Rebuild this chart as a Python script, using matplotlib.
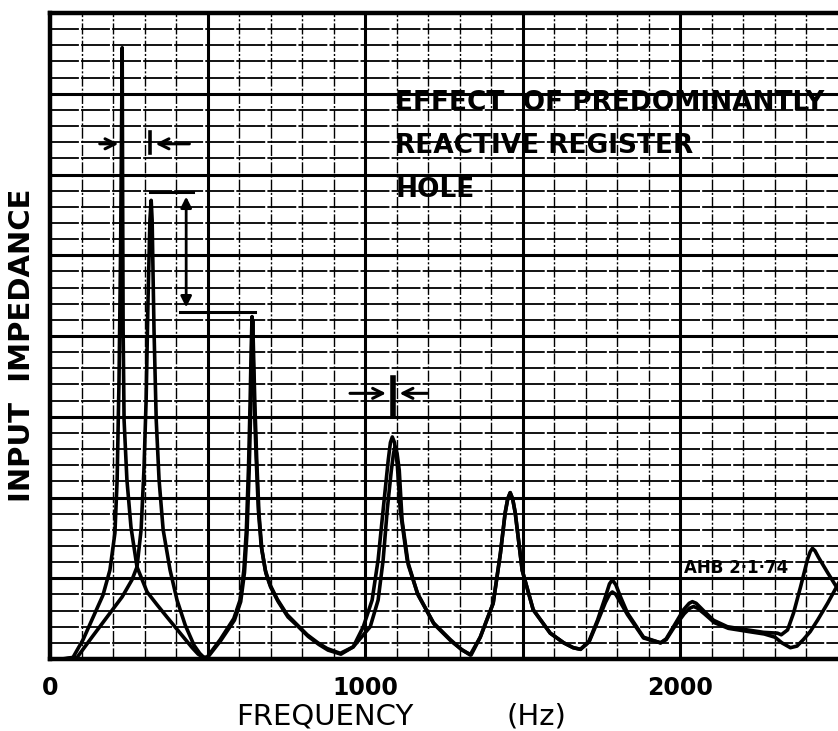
"""Input impedance of a clarinet-like air column, register hole closed vs open.

Redrawn from a scanned graph-paper plot: two curves on a 100 Hz by 0.2-unit grid.
"""

import matplotlib
matplotlib.use("Agg")
import matplotlib.pyplot as plt
import numpy as np

# register hole closed (tall first peak near 229 Hz)
HZ_A = [38, 73, 105, 137, 168, 190, 206, 213, 219, 224, 229, 230.5, 232, 235, 244, 257, 276,
        308, 340, 371, 413, 451, 470, 486,
        498, 540, 583, 603, 615, 623, 630, 635, 638, 641, 644, 648, 654, 661, 670, 683, 698, 721,
        752, 785, 816, 850, 879, 921,
        962, 994, 1022, 1041, 1057, 1073, 1080, 1086, 1093, 1102, 1111, 1133, 1165, 1216, 1270,
        1305, 1333,
        1365, 1406, 1429, 1444, 1452, 1460, 1468, 1476, 1498, 1533, 1587, 1630, 1660, 1683,
        1710, 1737, 1762, 1775, 1784, 1795, 1810, 1832, 1883, 1937,
        1955, 1978, 2010, 2028, 2038, 2050, 2073, 2105, 2149, 2213, 2264, 2308, 2320,
        2340, 2359, 2381, 2403, 2412, 2419, 2427, 2438, 2467, 2502]
Z_A = [0.0, 0.02, 0.24, 0.52, 0.79, 1.10, 1.56, 2.22, 3.46, 5.07, 7.57, 5.68, 4.07, 2.96, 2.22, 1.63, 1.14,
       0.83, 0.67, 0.52, 0.32, 0.14, 0.06, 0.02,
       0.02, 0.24, 0.50, 0.73, 1.10, 1.60, 2.40, 3.20, 3.80, 4.24, 3.80, 3.20, 2.50, 1.85, 1.40, 1.10, 0.92, 0.74,
       0.55, 0.42, 0.30, 0.20, 0.13, 0.07,
       0.15, 0.40, 0.73, 1.23, 1.85, 2.46, 2.68, 2.75, 2.68, 2.40, 1.85, 1.23, 0.82, 0.45, 0.24,
       0.12, 0.05,
       0.27, 0.69, 1.31, 1.81, 1.98, 2.06, 1.98, 1.81, 1.10, 0.61, 0.32, 0.20, 0.14, 0.12,
       0.22, 0.48, 0.77, 0.93, 0.98, 0.92, 0.77, 0.57, 0.27, 0.20,
       0.25, 0.40, 0.61, 0.69, 0.71, 0.69, 0.60, 0.48, 0.40, 0.36, 0.33, 0.32, 0.30,
       0.36, 0.57, 0.89, 1.23, 1.33, 1.37, 1.34, 1.26, 1.07, 0.85]

# register hole open (first peak pushed up to ~321 Hz and lowered)
HZ_B = [45, 86, 133, 181, 229, 260, 276, 289, 298, 305, 311, 317, 321, 324, 330, 337, 346, 359,
        381, 403, 429, 457, 475, 488,
        500, 542, 585, 605, 617, 625, 632, 637, 640, 643, 646, 650, 656, 663, 672, 685, 700, 724,
        755, 788, 819, 853, 882, 923,
        962, 1016, 1041, 1057, 1070, 1083, 1090, 1095, 1101, 1108, 1117, 1137, 1168, 1219, 1273,
        1308, 1336,
        1365, 1406, 1429, 1444, 1452, 1460, 1468, 1476, 1498, 1533, 1587, 1630, 1660, 1683,
        1710, 1737, 1762, 1775, 1784, 1795, 1810, 1832, 1883, 1937,
        1955, 1978, 2012, 2030, 2042, 2054, 2076, 2108, 2152, 2216, 2266, 2300, 2322,
        2349, 2370, 2390, 2412, 2435, 2467, 2502]
Z_B = [0.0, 0.02, 0.27, 0.52, 0.77, 0.98, 1.14, 1.60, 2.34, 3.21, 4.45, 5.44, 5.68, 5.44, 4.07, 2.96, 2.22, 1.60,
       1.10, 0.73, 0.42, 0.17, 0.07, 0.02,
       0.02, 0.23, 0.48, 0.71, 1.07, 1.56, 2.35, 3.15, 3.75, 4.20, 3.75, 3.15, 2.45, 1.80, 1.36, 1.06, 0.89, 0.71,
       0.52, 0.40, 0.28, 0.18, 0.11, 0.06,
       0.15, 0.40, 0.73, 1.23, 1.85, 2.34, 2.55, 2.63, 2.55, 2.34, 1.72, 1.16, 0.79, 0.43, 0.22,
       0.11, 0.05,
       0.27, 0.69, 1.31, 1.81, 1.98, 2.06, 1.98, 1.81, 1.10, 0.61, 0.32, 0.20, 0.14, 0.12,
       0.21, 0.46, 0.70, 0.80, 0.83, 0.80, 0.70, 0.55, 0.26, 0.20,
       0.24, 0.38, 0.56, 0.63, 0.65, 0.63, 0.56, 0.45, 0.38, 0.34, 0.31, 0.27, 0.20,
       0.14, 0.16, 0.24, 0.34, 0.48, 0.69, 0.94]

TICKS = [0, 1000, 2000]
TICK_LABELS = ["0", "1000", "2000"]
TITLE_LINES = ["EFFECT  OF PREDOMINANTLY", "REACTIVE REGISTER", "HOLE"]
STAMP = "AHB 2·1·74"

INK = "black"


def graph_paper(ax):
    # minor rules first, broken like the printed paper; major rules heavier on top
    for x in np.arange(100, 2500, 100):
        if x % 500:
            ax.axvline(x, color=INK, lw=1.0, ls=(0, (8, 1.5, 1.5, 1.5)), zorder=1)
    for y in np.arange(0.2, 8, 0.2):
        if abs(y - round(y)) > 1e-6:
            ax.axhline(y, color=INK, lw=1.3, ls=(0, (16, 1.2)), zorder=1)
    for x in np.arange(500, 2500, 500):
        ax.axvline(x, color=INK, lw=2.2, zorder=1)
    for y in np.arange(1, 8, 1):
        ax.axhline(y, color=INK, lw=2.2, zorder=1)


def main():
    fig = plt.figure(figsize=(8.38, 7.31), dpi=100)
    ax = fig.add_axes([50 / 838, 72 / 731, 1 - 50 / 838, 646 / 731])
    ax.set_xlim(0, 2500)
    ax.set_ylim(0, 8)
    graph_paper(ax)

    ax.plot(HZ_A, Z_A, color=INK, lw=2.6, solid_joinstyle="round", zorder=3)
    ax.plot(HZ_B, Z_B, color=INK, lw=2.6, solid_joinstyle="round", zorder=3)

    # shift of the first resonance
    arrow = dict(arrowstyle="->", color=INK, lw=2.2, mutation_scale=18)
    ax.annotate("", xy=(226, 6.38), xytext=(149, 6.38), arrowprops=arrow)
    ax.annotate("", xy=(326, 6.38), xytext=(451, 6.38), arrowprops=arrow)
    ax.plot([317, 317], [6.27, 6.53], color=INK, lw=2.6)
    # drop in height between the two peaks
    ax.plot([317, 454], [5.78, 5.78], color=INK, lw=2.2)
    ax.plot([413, 651], [4.30, 4.30], color=INK, lw=2.2)
    ax.annotate("", xy=(432, 5.76), xytext=(432, 4.32),
                arrowprops=dict(arrowstyle="<|-|>", color=INK, lw=2.0, mutation_scale=16))
    # third resonance barely moves
    ax.annotate("", xy=(1075, 3.29), xytext=(943, 3.29), arrowprops=arrow)
    ax.annotate("", xy=(1100, 3.29), xytext=(1206, 3.29), arrowprops=arrow)
    ax.plot([1087, 1087], [3.02, 3.48], color=INK, lw=4.0)

    for line, y in zip(TITLE_LINES, [6.89, 6.35, 5.81]):
        ax.text(1095, y, line, fontsize=19, fontweight="bold", color=INK,
                ha="left", va="center", zorder=4, clip_on=False)
    ax.text(2010, 1.13, STAMP, fontsize=12, fontweight="bold", color=INK,
            ha="left", va="center", zorder=4)

    for side in ("left", "bottom", "top"):
        ax.spines[side].set_linewidth(3.2)
    ax.spines["right"].set_visible(False)
    ax.set_xticks(TICKS)
    ax.set_xticklabels(TICK_LABELS, fontsize=17, fontweight="bold")
    ax.tick_params(axis="x", length=0, pad=12)
    ax.set_yticks([])

    fig.text(325 / 838, 1 - 724 / 731, "FREQUENCY", fontsize=21, ha="center", va="baseline")
    fig.text(536 / 838, 1 - 724 / 731, "(Hz)", fontsize=21, ha="center", va="baseline")
    fig.text(22 / 838, 1 - 345 / 731, "INPUT  IMPEDANCE", fontsize=21, fontweight="bold",
             rotation=90, ha="center", va="center")

    fig.savefig("out.png", dpi=100)
    plt.close(fig)


if __name__ == "__main__":
    main()
